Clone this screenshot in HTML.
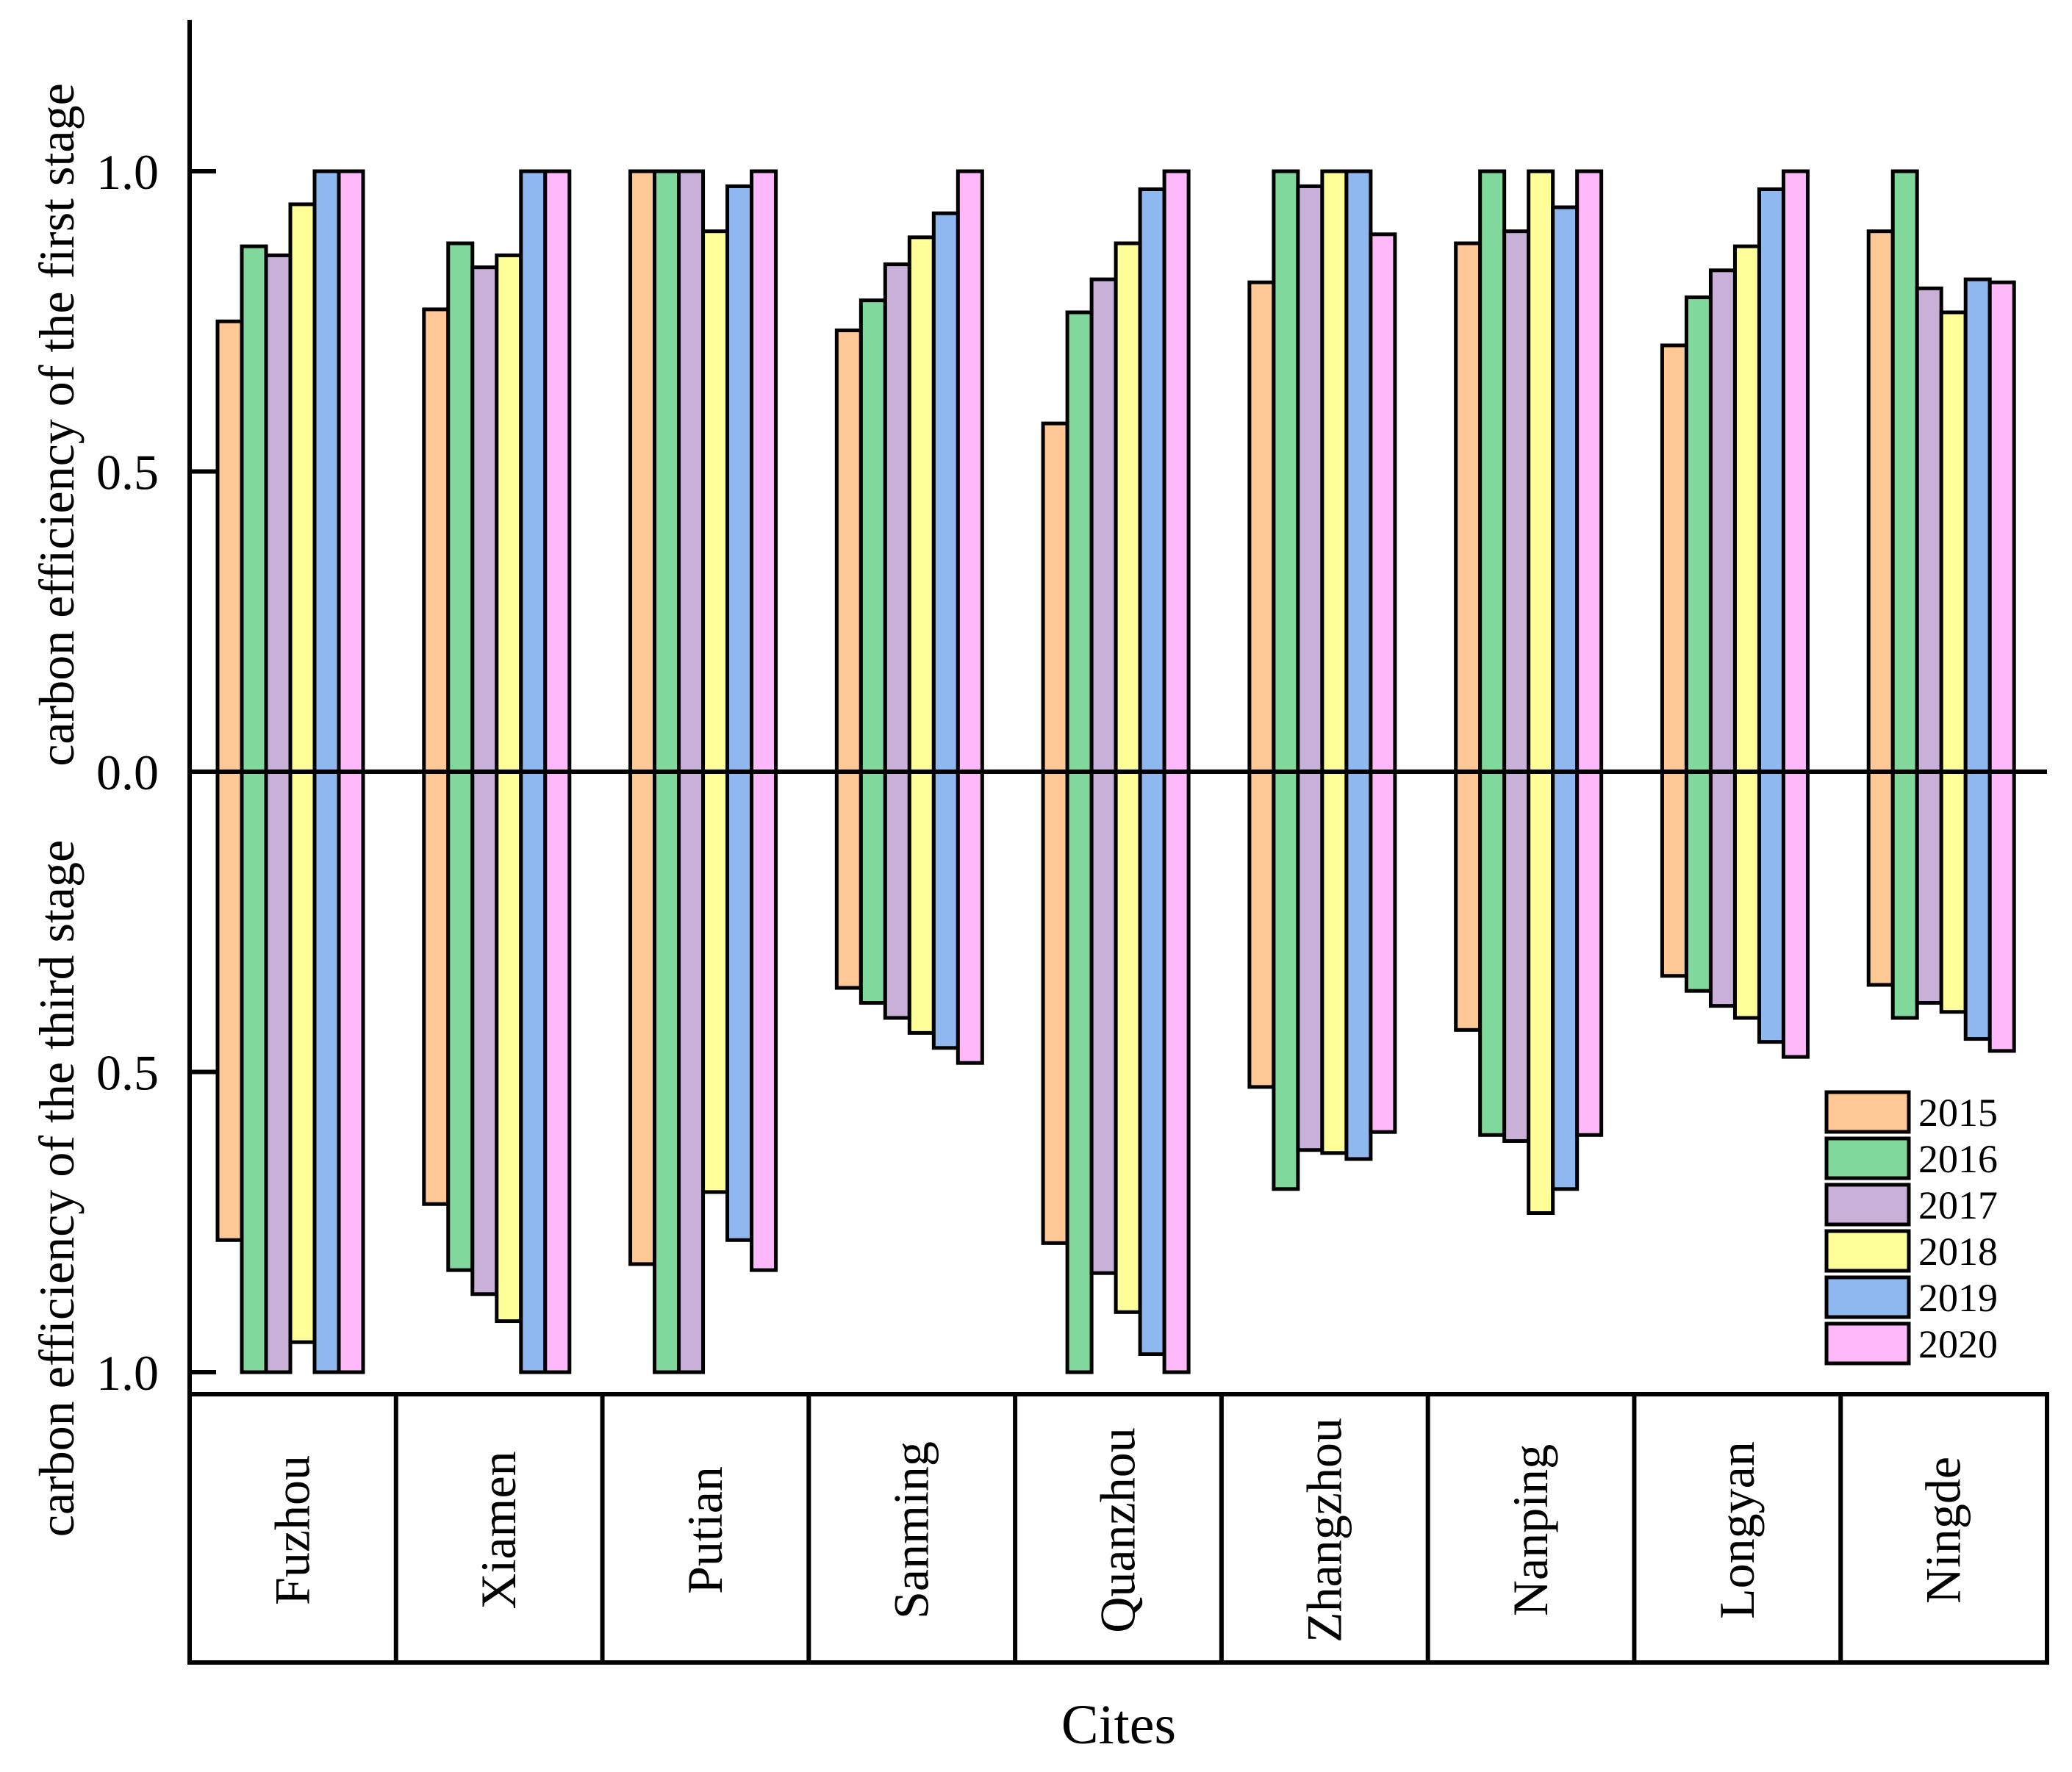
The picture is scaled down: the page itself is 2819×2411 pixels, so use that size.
<!DOCTYPE html>
<html><head><meta charset="utf-8"><style>
html,body{margin:0;padding:0;background:#fff}
svg{display:block;font-family:"Liberation Serif",serif}
</style></head><body>
<svg id="chart" width="2819" height="2411" viewBox="0 0 2819 2411" xmlns="http://www.w3.org/2000/svg">
<g id="bars"></g>
<g id="axes"></g>
<text x="0" y="0" transform="translate(100,578) rotate(-90)" text-anchor="middle" font-size="68">carbon efficiency of the first stage</text>
<text x="0" y="0" transform="translate(100,1617) rotate(-90)" text-anchor="middle" font-size="68">carbon efficiency of the third stage</text>
<text x="1522" y="2372" text-anchor="middle" font-size="76">Cites</text>
<g id="legend"></g>
</svg>
<script>
const cities = ["Fuzhou","Xiamen","Putian","Sanming","Quanzhou","Zhangzhou","Nanping","Longyan","Ningde"];
const years = ["2015","2016","2017","2018","2019","2020"];
const colors = ["#FFC895","#80D89C","#C8B0D8","#FFFF99","#8FB8F0","#FFB8FA"];
const firstStage = [
 [0.75,0.875,0.86,0.945,1,1],
 [0.77,0.88,0.84,0.86,1,1],
 [1,1,1,0.90,0.975,1],
 [0.735,0.785,0.845,0.89,0.93,1],
 [0.58,0.765,0.82,0.88,0.97,1],
 [0.815,1,0.975,1,1,0.895],
 [0.88,1,0.90,1,0.94,1],
 [0.71,0.79,0.835,0.875,0.97,1],
 [0.90,1,0.805,0.765,0.82,0.815]
];
const thirdStage = [
 [0.78,1,1,0.95,1,1],
 [0.72,0.83,0.87,0.915,1,1],
 [0.82,1,1,0.70,0.78,0.83],
 [0.36,0.385,0.41,0.435,0.46,0.485],
 [0.785,1,0.835,0.90,0.97,1],
 [0.525,0.695,0.63,0.635,0.645,0.60],
 [0.43,0.605,0.615,0.735,0.695,0.605],
 [0.34,0.365,0.39,0.41,0.45,0.475],
 [0.355,0.41,0.385,0.40,0.445,0.465]
];
const tickLabels = ["1.0","0.5","0.0","0.5","1.0"];
const tickValues = [1,0.5,0,-0.5,-1];

const NS="http://www.w3.org/2000/svg";
const X0=258, X1=2785, ZERO=1050, UNIT=817, AXTOP=27, AXBOT=1897, BOXBOT=2262;
const catW=(X1-X0)/cities.length, barW=33, off=38;
const yScale=v=>ZERO - v*UNIT;
const xBar=(c,s)=>X0+c*catW+off+s*barW;
function mk(tag,attrs,parent){const e=document.createElementNS(NS,tag);for(const k in attrs)e.setAttribute(k,attrs[k]);parent.appendChild(e);return e;}

const bars=document.getElementById('bars');
cities.forEach((city,c)=>{
  years.forEach((y,s)=>{
    const x=xBar(c,s);
    const t=firstStage[c][s];
    const r1=mk('rect',{x:x,y:yScale(t),width:barW,height:ZERO-yScale(t),fill:colors[s],stroke:'#000','stroke-width':5},bars);
    
    
    const b=thirdStage[c][s];
    const r2=mk('rect',{x:x,y:ZERO,width:barW,height:yScale(-b)-ZERO,fill:colors[s],stroke:'#000','stroke-width':5},bars);
    
    
  });
});

const axes=document.getElementById('axes');
const yl=mk('line',{x1:X0,y1:AXTOP,x2:X0,y2:AXBOT,stroke:'#000','stroke-width':6},axes);


const zl=mk('line',{x1:X0,y1:ZERO,x2:X1,y2:ZERO,stroke:'#000','stroke-width':6},axes);


tickValues.forEach((v,i)=>{
  const tk=mk('line',{x1:X0,y1:yScale(v),x2:X0+36,y2:yScale(v),stroke:'#000','stroke-width':6},axes);
  
  
  const tl=mk('text',{x:X0-42,y:yScale(v)+24,'text-anchor':'end','font-size':68},axes);
  tl.textContent=tickLabels[i];
  
  
});
const box=mk('rect',{x:X0,y:AXBOT,width:X1-X0,height:BOXBOT-AXBOT,fill:'none',stroke:'#000','stroke-width':6},axes);


cities.forEach((city,c)=>{
  if(c>0){
    const d=mk('line',{x1:X0+c*catW,y1:AXBOT,x2:X0+c*catW,y2:BOXBOT,stroke:'#000','stroke-width':6},axes);
    
    
  }
  const cx=X0+(c+0.5)*catW+22, cy=2082;
  const t=mk('text',{x:0,y:0,transform:`translate(${cx},${cy}) rotate(-90)`,'text-anchor':'middle','font-size':68},axes);
  t.textContent=city;
  
  
});

const lg=document.getElementById('legend');
years.forEach((y,s)=>{
  const top=1486+s*63;
  const r=mk('rect',{x:2485,y:top,width:112,height:54,fill:colors[s],stroke:'#000','stroke-width':5},lg);
  
  
  const t=mk('text',{x:2610,y:top+46,'font-size':54},lg);
  t.textContent=y;
  
  
});
</script>
</body></html>
